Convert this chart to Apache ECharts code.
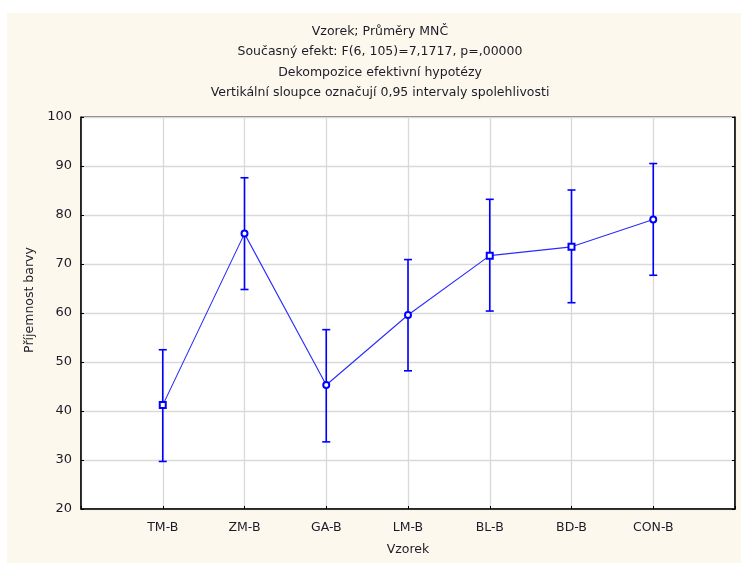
<!DOCTYPE html>
<html>
<head>
<meta charset="utf-8">
<script src="https://cdn.jsdelivr.net/npm/echarts@6/dist/echarts.min.js"></script>
<style>
html,body{margin:0;padding:0;background:#fff;}
#c{width:741px;height:563px;}
</style>
</head>
<body>
<div id="c"></div>
<script>
const categories = ['TM-B', 'ZM-B', 'GA-B', 'LM-B', 'BL-B', 'BD-B', 'CON-B'];
const means = [41.2, 76.2, 45.3, 59.6, 71.7, 73.5, 79.1];
const lower = [29.7, 64.8, 33.7, 48.2, 60.4, 62.1, 67.7];
const upper = [52.5, 87.6, 56.6, 70.9, 83.2, 85.1, 90.5];
const yTicks = [20, 30, 40, 50, 60, 70, 80, 90, 100];
const titleLines = [
  'Vzorek; Průměry MNČ',
  'Současný efekt: F(6, 105)=7,1717, p=,00000',
  'Dekompozice efektivní hypotézy',
  'Vertikální sloupce označují 0,95 intervaly spolehlivosti'
];
const xName = 'Vzorek';
const yName = 'Příjemnost barvy';

const axisCats = [''].concat(categories).concat(['']);
const lineData = categories.map((c, i) => [c, means[i]]);
const errData = categories.map((c, i) => [c, lower[i], upper[i]]);
const squareIdx = [0, 4, 5];

const chart = echarts.init(document.getElementById('c'), null, {renderer: 'canvas'});
const txt = '#1c1c28';
const font = 'DejaVu Sans, sans-serif';
chart.setOption({
  backgroundColor: '#ffffff',
  animation: false,
  graphic: [{
    type: 'rect', z: -10, silent: true,
    shape: {x: 7, y: 13, width: 741, height: 563},
    style: {fill: '#fdf8ee'}
  }],
  title: {
    text: titleLines.join('\n'),
    left: 380, top: 21, padding: 0, textAlign: 'center',
    textStyle: {fontSize: 12.5, fontWeight: 'normal', color: txt, lineHeight: 20.5, fontFamily: font}
  },
  grid: {
    left: 81, top: 117, right: 6, bottom: 54, outerBoundsMode: 'none', containLabel: false,
    show: true, backgroundColor: '#ffffff', borderColor: '#000', borderWidth: 1
  },
  xAxis: {
    type: 'category', data: axisCats, boundaryGap: false,
    name: xName, nameLocation: 'middle', nameGap: 34,
    nameTextStyle: {fontSize: 12.5, color: txt, fontFamily: font},
    axisLine: {lineStyle: {color: '#000', width: 1.5}},
    axisTick: {inside: true, length: 3, lineStyle: {color: '#000'}},
    axisLabel: {fontSize: 12.5, color: txt, margin: 12, fontFamily: font, interval: 0},
    splitLine: {show: true, lineStyle: {color: '#d9d9d9', width: 1.3}}
  },
  yAxis: [{
    type: 'value', min: 20, max: 100, interval: 10,
    name: yName, nameLocation: 'middle', nameGap: 44,
    nameTextStyle: {fontSize: 12.5, color: txt, fontFamily: font, padding: [0, 0, 0, 26]},
    axisLine: {show: true, lineStyle: {color: '#000', width: 1.5}},
    axisTick: {show: true, inside: true, length: 3, lineStyle: {color: '#000'}},
    axisLabel: {fontSize: 13, color: txt, margin: 9, fontFamily: font,
      formatter: v => yTicks.indexOf(v) >= 0 ? String(v) : ''},
    splitLine: {show: true, lineStyle: {color: '#d9d9d9', width: 1.3}}
  }, {
    type: 'value', min: 20, max: 100, interval: 10, position: 'right',
    axisLine: {show: true, lineStyle: {color: '#000', width: 1.5}},
    axisTick: {show: true, inside: true, length: 3, lineStyle: {color: '#000'}},
    axisLabel: {show: false},
    splitLine: {show: false}
  }],
  series: [
    {
      type: 'custom',
      data: errData,
      z: 3,
      renderItem: function (params, api) {
        const x = api.value(0);
        const lo = api.coord([x, api.value(1)]);
        const hi = api.coord([x, api.value(2)]);
        const w = 4;
        const st = {stroke: '#0000ff', lineWidth: 1.6};
        return {
          type: 'group',
          children: [
            {type: 'line', shape: {x1: lo[0], y1: lo[1], x2: hi[0], y2: hi[1]}, style: st},
            {type: 'line', shape: {x1: lo[0] - w, y1: lo[1], x2: lo[0] + w, y2: lo[1]}, style: st},
            {type: 'line', shape: {x1: hi[0] - w, y1: hi[1], x2: hi[0] + w, y2: hi[1]}, style: st}
          ]
        };
      }
    },
    {
      type: 'line',
      data: lineData,
      z: 4,
      symbol: function (v, p) { return squareIdx.indexOf(p.dataIndex) >= 0 ? 'emptyRect' : 'emptyCircle'; },
      symbolSize: 6,
      lineStyle: {color: '#2a2aff', width: 1.1},
      itemStyle: {color: '#0000ff', borderWidth: 1}
    }
  ]
});
</script>
</body>
</html>
